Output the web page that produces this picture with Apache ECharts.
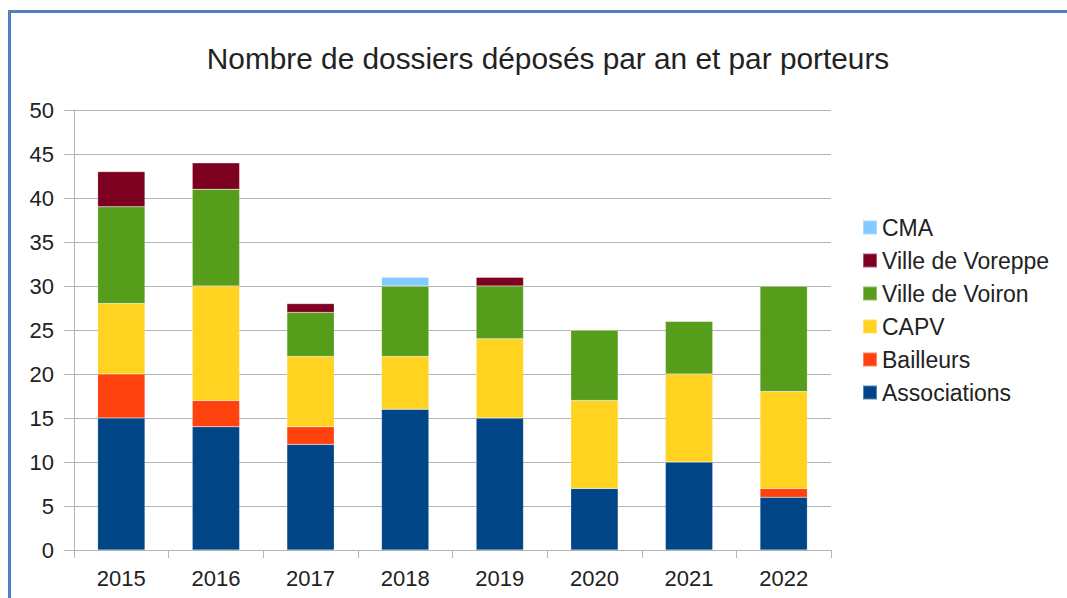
<!DOCTYPE html>
<html>
<head>
<meta charset="utf-8">
<script src="https://cdn.jsdelivr.net/npm/echarts@6/dist/echarts.min.js"></script>
<style>
  html, body { margin: 0; padding: 0; background: #fff; }
  #frame { position: absolute; left: 8px; top: 10px; width: 1100px; height: 640px;
           border: 3px solid #4f81bd; box-sizing: border-box; }
  #chart { position: absolute; left: 0; top: 0; width: 1067px; height: 598px; }
</style>
</head>
<body>
<div id="frame"></div>
<div id="chart"></div>
<script>
const years = ['2015', '2016', '2017', '2018', '2019', '2020', '2021', '2022'];
const associations = [15, 14, 12, 16, 15, 7, 10, 6];
const bailleurs = [5, 3, 2, 0, 0, 0, 0, 1];
const capv = [8, 13, 8, 6, 9, 10, 10, 11];
const villeVoiron = [11, 11, 5, 8, 6, 8, 6, 12];
const villeVoreppe = [4, 3, 1, 0, 1, 0, 0, 0];
const cma = [0, 0, 0, 1, 0, 0, 0, 0];
const legendOrder = ['CMA', 'Ville de Voreppe', 'Ville de Voiron', 'CAPV', 'Bailleurs', 'Associations'];

const font = 'Liberation Sans, Arial, sans-serif';

function bar(name, data, color) {
  return {
    name, type: 'bar', stack: 'total', data,
    barWidth: '50%',
    itemStyle: { color, borderColor: 'rgba(255,255,255,0.35)', borderWidth: 0.5 }
  };
}

const chart = echarts.init(document.getElementById('chart'), null, { renderer: 'svg' });
chart.setOption({
  animation: false,
  title: {
    text: 'Nombre de dossiers déposés par an et par porteurs',
    left: 543, top: 38, textAlign: 'center',
    textStyle: { fontFamily: font, fontSize: 29.8, fontWeight: 'normal', color: '#222' }
  },
  legend: {
    orient: 'vertical', left: 862, top: 216, padding: 0,
    data: legendOrder,
    itemWidth: 14, itemHeight: 14, itemGap: 10,
    icon: 'rect',
    textStyle: { fontFamily: font, fontSize: 23, color: '#222' }
  },
  grid: { left: 74, right: 236, top: 110, bottom: 48, containLabel: false },
  xAxis: {
    type: 'category', data: years,
    axisLine: { lineStyle: { color: '#b3b3b3', width: 1 } },
    axisTick: { show: true, length: 8, lineStyle: { color: '#b3b3b3' } },
    axisLabel: { fontFamily: font, fontSize: 22, color: '#222', margin: 17 }
  },
  yAxis: {
    type: 'value', min: 0, max: 50, interval: 5,
    axisLine: { show: true, lineStyle: { color: '#b3b3b3' } },
    axisTick: { show: true, length: 10, lineStyle: { color: '#b3b3b3' } },
    splitLine: { lineStyle: { color: '#b3b3b3', width: 1 } },
    axisLabel: { fontFamily: font, fontSize: 22, color: '#222', margin: 20 }
  },
  series: [
    bar('Associations', associations, '#004586'),
    bar('Bailleurs', bailleurs, '#ff420e'),
    bar('CAPV', capv, '#ffd320'),
    bar('Ville de Voiron', villeVoiron, '#579d1c'),
    bar('Ville de Voreppe', villeVoreppe, '#7e0021'),
    bar('CMA', cma, '#83caff')
  ]
});
</script>
</body>
</html>
